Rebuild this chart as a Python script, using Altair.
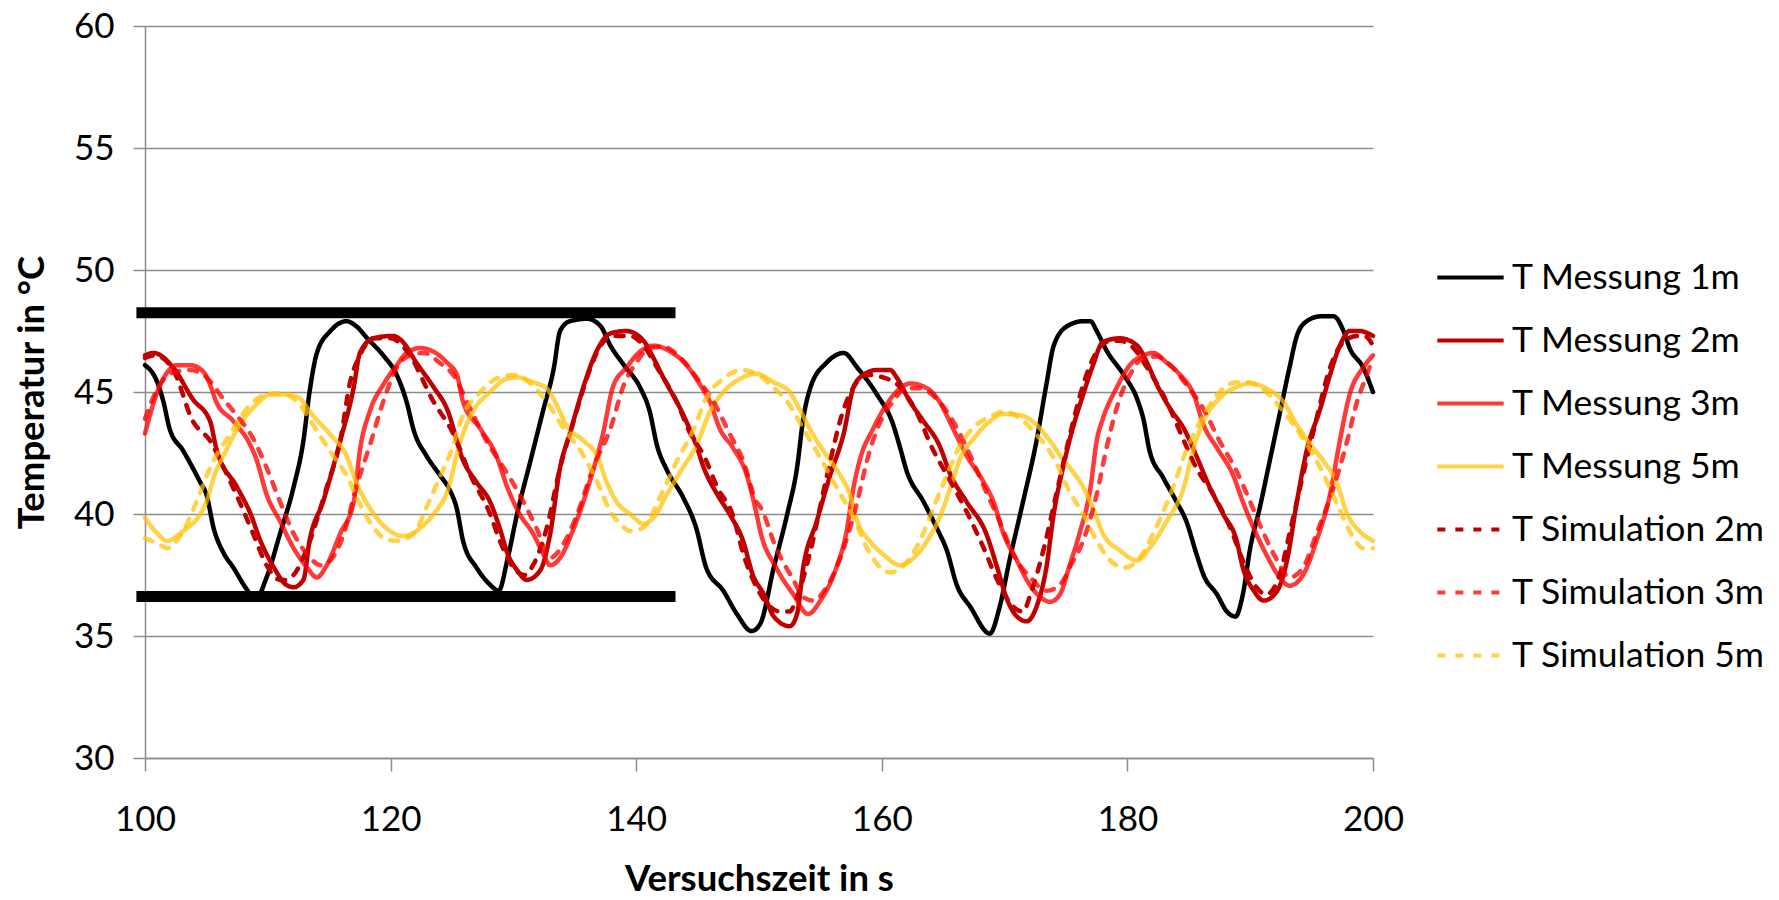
import altair as alt
import pandas as pd

# ---------------- data ----------------
t_m1 = [100.0,101.0,101.5,102.0,103.1,104.5,105.0,105.6,106.4,107.2,108.3,109.0,109.9,111.0,112.1,112.9,113.4,114.0,115.1,116.4,117.2,118.1,119.4,120.5,121.3,121.9,122.9,124.0,124.8,125.4,125.9,127.0,128.1,128.8,129.5,130.3,131.4,132.4,133.3,133.8,134.6,136.0,137.1,137.9,139.0,140.3,141.1,141.7,142.5,143.8,144.9,145.7,147.1,148.2,149.4,150.1,151.2,152.3,153.1,153.6,154.2,155.5,156.9,158.0,159.6,160.9,161.5,162.0,163.4,164.5,165.3,166.1,167.2,168.8,169.6,170.4,171.5,172.6,173.4,174.0,175.1,176.4,177.0,177.5,178.3,179.7,180.8,181.3,181.8,182.9,184.0,184.8,185.6,186.2,187.3,188.1,188.8,189.4,190.0,190.8,191.6,192.4,193.2,193.8,194.6,195.7,196.8,197.6,198.1,199.2,200.0]
T_m1 = [46.1,45.4,44.6,43.5,42.6,41.3,40.8,39.4,38.4,37.8,36.9,36.5,37.4,39.2,41.1,43.0,45.0,46.6,47.5,47.9,47.7,47.2,46.5,45.7,44.6,43.4,42.4,41.6,41.0,40.2,38.9,37.8,37.1,36.85,38.1,40.0,42.2,44.2,46.0,47.5,47.9,48.0,47.7,46.9,46.1,45.2,44.2,42.8,41.8,40.7,39.4,37.8,36.85,35.9,35.2,35.5,37.8,40.0,41.9,43.9,45.2,46.2,46.6,46.0,44.9,43.7,42.7,41.8,40.5,39.4,38.5,37.1,36.2,35.1,36.2,38.1,40.5,43.0,45.3,46.9,47.7,47.9,47.9,47.5,46.7,45.7,44.7,43.9,42.6,41.5,40.5,39.7,38.4,37.5,36.7,36.0,35.8,36.7,38.6,40.3,42.2,44.1,46.0,47.3,47.9,48.1,48.1,47.5,46.8,46.0,45.0]

t_m2 = [100.0,100.7,102.3,103.9,105.3,105.8,107.5,108.6,109.4,110.5,111.5,112.1,112.9,113.4,114.5,115.9,117.0,117.5,118.6,120.2,121.0,122.1,123.5,124.6,125.9,127.0,128.1,128.9,129.5,130.3,131.1,132.2,133.0,133.8,134.6,135.7,136.8,137.9,139.2,140.6,141.4,142.2,143.8,144.9,145.5,146.6,147.6,148.7,149.5,150.4,151.2,152.5,153.1,153.6,154.7,155.8,156.9,157.7,158.5,159.6,160.7,161.2,162.3,163.4,164.7,165.6,166.9,168.5,169.4,170.2,171.0,171.8,172.6,173.4,174.0,174.8,175.6,176.4,177.2,178.0,179.4,180.8,181.6,182.4,183.5,184.6,185.6,186.7,187.8,188.9,189.4,190.3,191.1,192.2,193.0,193.8,194.6,195.7,196.5,197.3,198.1,198.9,200.0]
T_m2 = [46.5,46.6,46.0,44.7,43.8,42.7,41.1,40.0,38.9,37.8,37.1,37.0,37.3,38.9,40.5,43.0,45.2,46.6,47.2,47.3,47.05,46.2,45.2,44.3,42.2,41.3,40.5,39.4,38.4,37.7,37.3,37.7,39.2,41.9,43.3,45.2,46.7,47.4,47.5,47.1,46.4,45.6,44.1,42.8,41.9,40.8,40.0,38.9,37.5,36.7,35.8,35.4,35.9,37.8,39.7,41.6,43.3,45.2,45.7,45.9,45.9,45.6,44.6,43.8,42.8,41.6,40.5,39.2,37.8,36.5,35.8,35.6,36.2,37.8,40.0,42.0,43.6,44.9,46.1,47.05,47.2,46.9,46.2,45.3,44.3,43.5,42.4,41.1,40.0,38.9,37.8,36.85,36.45,36.85,38.1,40.5,42.6,44.3,45.7,46.9,47.5,47.5,47.3]

t_m3 = [100.0,101.0,101.8,102.6,103.7,104.8,105.3,105.8,107.2,108.6,109.1,109.9,111.0,112.1,113.2,114.0,114.8,115.9,117.0,117.5,118.3,119.4,120.5,121.3,122.4,123.5,124.6,125.4,125.9,127.3,128.6,129.5,130.5,131.6,132.4,133.0,133.8,134.9,136.2,137.3,138.1,139.2,140.3,141.4,142.8,144.1,145.2,146.0,146.8,147.9,149.0,149.8,150.1,151.4,152.8,154.0,155.0,156.3,157.1,157.7,158.2,159.3,160.4,161.5,162.3,163.7,164.7,165.8,166.9,168.3,169.1,169.9,171.0,171.8,172.9,173.7,174.5,175.3,176.1,177.0,177.5,178.0,179.1,180.2,181.3,182.1,183.2,184.3,185.4,186.2,187.3,188.6,189.4,190.3,191.3,192.4,193.2,194.3,195.4,196.5,197.3,198.1,199.2,200.0]
T_m3 = [43.3,45.0,45.8,46.1,46.1,45.8,45.3,44.6,43.8,42.8,42.2,40.8,39.7,38.6,37.8,37.4,37.9,39.2,40.5,42.6,44.2,45.3,46.1,46.6,46.8,46.65,46.2,45.7,44.6,43.5,42.4,41.1,40.0,39.2,38.4,37.9,38.2,39.4,41.3,43.3,45.2,46.0,46.65,46.9,46.65,46.1,45.3,44.6,43.5,42.7,41.6,40.0,39.3,37.8,36.7,35.9,36.45,37.8,39.2,41.1,42.2,43.5,44.5,45.15,45.35,45.15,44.6,43.5,42.4,41.3,40.5,39.2,38.1,37.3,36.6,36.4,36.7,37.9,39.2,41.1,43.0,43.9,45.15,46.1,46.5,46.6,46.2,45.7,44.9,43.65,42.7,41.6,40.5,39.4,38.35,37.4,37.06,37.5,38.9,40.8,43.0,44.9,46.0,46.5]

t_m5 = [100.0,101.0,101.8,103.1,104.5,105.0,105.6,106.7,107.7,109.1,110.2,111.5,112.6,113.4,115.1,116.4,117.2,118.3,119.7,121.0,122.1,123.5,124.6,125.7,126.7,128.1,129.5,130.3,131.6,132.7,133.5,134.3,135.7,136.8,137.6,138.4,139.5,140.6,141.4,142.5,143.8,144.9,146.0,147.1,148.5,149.8,151.2,152.5,153.3,154.4,155.5,156.6,157.4,158.0,159.0,160.1,161.5,162.6,163.7,164.7,165.6,166.4,167.5,168.8,169.9,171.3,172.6,173.7,174.8,175.3,176.4,177.2,178.0,179.4,180.8,181.8,183.2,184.6,185.4,186.2,187.5,188.9,190.0,191.3,192.7,193.8,194.9,196.0,197.0,197.9,198.9,200.0]
T_m5 = [39.85,39.2,38.9,39.3,40.0,40.5,41.5,42.7,43.65,44.5,44.9,44.9,44.75,44.2,43.25,42.4,41.3,40.25,39.4,39.1,39.3,40.0,40.9,43.0,44.2,45.0,45.55,45.6,45.4,45.15,44.5,43.65,43.0,42.4,41.3,40.5,40.0,39.6,39.85,40.8,41.9,42.8,44.2,45.0,45.55,45.75,45.4,45.0,44.3,43.25,42.4,41.6,40.8,39.7,38.9,38.35,37.9,38.2,38.9,39.85,41.1,42.3,43.1,43.8,44.1,44.05,43.65,43.0,42.2,41.9,41.1,40.25,39.2,38.5,38.1,38.6,39.7,41.1,42.7,43.8,44.75,45.2,45.35,45.15,44.6,43.65,42.85,42.15,41.35,40.0,39.3,38.9]

t_s2 = [100.0,100.8,102.3,103.9,105.3,106.5,107.7,108.8,109.9,111.0,111.5,112.1,113.2,114.8,115.9,116.7,117.5,118.6,120.0,121.3,123.5,125.1,126.5,128.1,128.9,130.0,130.9,131.6,132.7,133.8,134.9,136.0,137.1,138.1,139.5,140.6,141.7,143.3,144.4,145.5,146.6,147.9,148.7,149.8,150.9,151.7,152.5,153.1,154.2,155.5,156.9,157.7,158.8,160.1,161.5,162.8,164.2,165.3,166.9,168.3,169.4,170.7,171.5,172.1,173.2,174.2,175.3,176.4,177.5,178.3,179.4,180.5,181.6,183.2,184.6,185.6,187.0,188.4,189.4,190.5,191.3,192.4,193.2,194.3,195.4,196.5,197.6,198.7,199.3,200.0]
T_s2 = [46.4,46.5,45.9,43.8,43.0,41.8,40.5,39.2,37.9,37.3,37.3,37.5,38.6,41.1,43.0,45.4,46.5,47.2,47.2,46.7,44.6,43.3,41.6,40.0,38.9,37.8,37.5,37.9,39.4,41.9,43.8,45.6,46.9,47.3,47.3,46.9,46.0,44.6,43.3,42.4,41.1,39.9,38.4,37.0,36.2,36.0,36.0,36.6,38.5,41.5,44.3,45.2,45.7,45.6,45.2,44.2,42.6,41.6,40.1,38.6,37.3,36.2,36.0,36.7,38.6,40.8,43.2,45.3,46.65,47.05,47.1,46.8,46.0,44.6,43.0,41.9,40.8,39.4,38.1,37.0,36.7,37.5,39.2,41.6,43.9,46.0,47.05,47.3,47.3,46.9]

t_s3 = [100.0,101.2,102.3,103.7,105.0,106.4,107.7,108.8,109.9,111.0,112.1,113.2,114.3,115.1,116.2,117.2,118.3,119.4,120.5,121.6,122.7,124.0,125.1,126.5,127.8,129.2,130.5,131.9,133.0,134.1,135.2,136.5,137.9,139.0,140.0,141.1,142.2,143.6,144.9,146.3,147.6,148.7,149.8,150.1,151.4,152.8,153.6,154.4,155.5,156.9,158.0,158.8,159.9,160.9,162.0,163.1,164.5,165.8,167.2,168.5,169.6,170.7,172.1,173.4,174.5,175.5,176.4,177.5,178.3,179.1,180.2,181.3,182.4,183.5,184.8,186.2,187.5,188.9,190.0,191.1,192.2,193.2,194.3,195.4,196.8,197.9,198.7,199.5,200.0]
T_s3 = [43.9,45.3,45.8,45.9,45.6,44.7,43.9,43.1,41.9,40.5,39.2,38.35,37.9,38.1,39.2,41.1,42.8,44.6,46.0,46.5,46.6,46.2,45.7,44.3,43.0,41.9,40.8,39.4,38.2,38.8,40.0,41.9,43.5,45.3,46.2,46.8,46.85,46.4,45.6,44.6,43.3,42.2,40.5,40.3,38.6,37.3,36.6,36.45,37.0,38.6,40.5,42.2,43.8,44.6,45.15,45.15,44.7,43.8,42.4,40.9,39.7,38.35,37.4,36.85,37.1,38.0,38.9,40.8,42.7,44.3,45.7,46.4,46.45,46.1,45.3,44.3,43.0,41.75,40.5,39.2,38.1,37.4,37.8,39.2,41.1,43.0,44.6,45.7,46.4]

t_s5 = [100.0,101.0,101.8,103.1,104.2,105.3,106.9,108.6,109.9,111.0,112.4,114.0,115.3,116.4,117.5,118.6,119.7,120.5,121.9,122.9,124.0,124.8,125.9,127.3,128.6,130.0,131.4,132.7,134.1,135.7,136.8,137.9,138.7,139.5,140.6,141.9,143.3,144.7,145.7,147.1,148.5,149.8,150.9,152.3,153.6,155.0,156.3,157.7,158.8,159.9,160.7,161.8,163.1,164.2,165.3,166.4,167.7,169.1,169.9,171.3,172.6,174.0,175.3,176.4,177.5,178.6,179.7,181.0,182.1,183.5,184.8,186.2,187.5,188.9,189.7,191.3,192.7,194.3,195.7,197.0,198.1,199.2,200.0]
T_s5 = [39.0,38.8,38.6,39.3,40.5,41.9,43.25,44.5,44.9,44.95,44.6,43.4,42.4,41.6,40.4,39.45,38.95,38.9,39.2,40.25,41.5,42.4,44.05,45.0,45.55,45.7,45.35,44.6,43.5,42.4,41.35,40.1,39.6,39.3,39.45,40.65,42.15,43.5,44.75,45.55,45.9,45.75,45.3,44.6,43.5,42.3,41.1,39.85,38.6,37.8,37.6,37.9,38.9,40.25,41.6,42.85,43.65,44.05,44.2,43.9,43.25,42.3,40.9,40.0,38.9,38.1,37.8,38.2,39.2,40.8,42.6,44.05,45.0,45.4,45.4,45.0,44.2,43.1,41.9,40.5,39.3,38.6,38.6]

series_names = ["T Messung 1m", "T Messung 2m", "T Messung 3m", "T Messung 5m",
                "T Simulation 2m", "T Simulation 3m", "T Simulation 5m"]
series_t = [t_m1, t_m2, t_m3, t_m5, t_s2, t_s3, t_s5]
series_T = [T_m1, T_m2, T_m3, T_m5, T_s2, T_s3, T_s5]
series_colors = ["#000000", "#C00000", "rgba(255,0,0,0.78)", "rgba(255,192,0,0.72)",
                 "#C00000", "rgba(255,0,0,0.78)", "rgba(255,192,0,0.72)"]
series_dash = [[1, 0], [1, 0], [1, 0], [1, 0], [8, 10], [8, 10], [8, 10]]

# thick black band lines (start, end, level)
band_x1 = [99.3, 99.3]
band_x2 = [143.2, 143.2]
band_y = [48.25, 36.62]

rows = []
for name, ts, Ts in zip(series_names, series_t, series_T):
    for a, b in zip(ts, Ts):
        rows.append({"t": a, "T": b, "series": name})
df = pd.DataFrame(rows)
band_df = pd.DataFrame({"x1": band_x1, "x2": band_x2, "y": band_y})

FONT = "Lato"

x_enc = alt.X("t:Q", scale=alt.Scale(domain=[100, 200], nice=False, zero=False),
              axis=alt.Axis(title="Versuchszeit in s", values=[100, 120, 140, 160, 180, 200],
                            grid=False, tickSize=13, labelPadding=31, labelFlush=False,
                            titleY=121, titleBaseline="middle", titleX=614))
y_enc = alt.Y("T:Q", scale=alt.Scale(domain=[30, 60], nice=False, zero=False),
              axis=alt.Axis(title="Temperatur in °C", values=[30, 35, 40, 45, 50, 55, 60],
                            grid=True, tickSize=12, labelPadding=19, labelFlush=False,
                            titleX=-113, titleY=366, titleBaseline="middle", titleAngle=-90))

legend_opts = dict(title=None, orient="none", legendX=1290, legendY=216,
                   symbolType="stroke", symbolSize=4400,
                   symbolStrokeWidth=4, labelFontSize=35.5,
                   labelFont=FONT, labelColor="#000000",
                   labelOffset=6, rowPadding=9, labelLimit=450)
color_enc = alt.Color("series:N", scale=alt.Scale(domain=series_names, range=series_colors),
                      legend=alt.Legend(**legend_opts))
dash_enc = alt.StrokeDash("series:N", scale=alt.Scale(domain=series_names, range=series_dash),
                          legend=alt.Legend(**legend_opts))

layers = []
for name in series_names:
    layers.append(
        alt.Chart(df).transform_filter(alt.datum.series == name)
        .mark_line(strokeWidth=4.5, interpolate="monotone", strokeCap="round", strokeJoin="round")
        .encode(x=x_enc, y=y_enc, color=color_enc, strokeDash=dash_enc)
    )

bands = alt.Chart(band_df).mark_rule(color="#000000", strokeWidth=11, clip=False).encode(
    x=alt.X("x1:Q"), x2="x2:Q", y=alt.Y("y:Q")
)

chart = alt.layer(*layers, bands).properties(
    width=1228, height=732,
    autosize=alt.AutoSizeParams(type="none"),
    padding={"left": 137, "top": 18, "right": 390, "bottom": 142},
    background="white",
).configure_axis(
    labelFont=FONT, labelFontSize=35, labelColor="#000000",
    titleFont=FONT, titleFontSize=36.5, titleFontWeight="bold", titleColor="#000000",
    domainColor="#8c8c8c", domainWidth=1.5, tickColor="#8c8c8c", tickWidth=1.5,
    gridColor="#8c8c8c", gridWidth=1.5,
).configure_view(stroke=None)

chart.save("out.html", embed_options={"renderer": "svg", "actions": False})
